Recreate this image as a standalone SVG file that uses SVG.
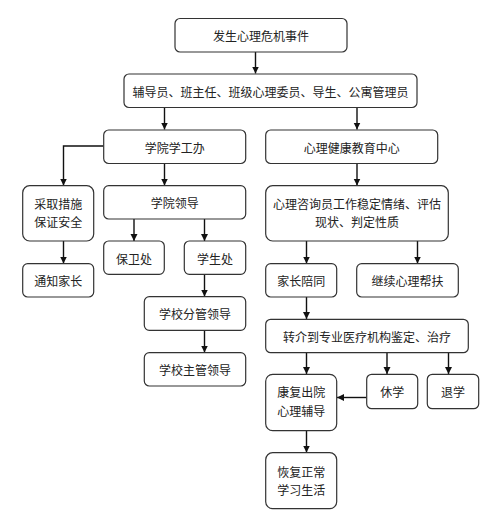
<svg xmlns="http://www.w3.org/2000/svg" width="504" height="529" viewBox="0 0 504 529">
<defs>
<marker id="ah" markerWidth="8" markerHeight="8" refX="7" refY="4" orient="auto" markerUnits="userSpaceOnUse">
<path d="M0,0.5 L7,4 L0,7.5 Z" fill="#111"/>
</marker>
<style>
.box{fill:#fff;stroke:#333;stroke-width:1.2}
.t{font-family:"Noto Sans CJK SC","Noto Sans",sans-serif;font-size:12px;fill:#222;text-anchor:middle;dominant-baseline:central}
.c{fill:none;stroke:#111;stroke-width:1.4;marker-end:url(#ah)}
</style>
</defs>
<rect width="504" height="529" fill="#fff"/>
<g id="connectors">
<path class="c" d="M255.5,52 V73.5"/>
<path class="c" d="M164.5,107.5 V129.5"/>
<path class="c" d="M357,107.5 V129.5"/>
<path class="c" d="M103.5,146 H63.5 V185.5"/>
<path class="c" d="M164.5,163.5 V185.5"/>
<path class="c" d="M357,163.5 V185.5"/>
<path class="c" d="M63.5,241 V263.5"/>
<path class="c" d="M134,219 V241"/>
<path class="c" d="M204.5,219 V241"/>
<path class="c" d="M204.5,274.5 V296.5"/>
<path class="c" d="M204.5,330.5 V352.5"/>
<path class="c" d="M306.5,241 V263.5"/>
<path class="c" d="M417.5,241 V263.5"/>
<path class="c" d="M306.5,297 V319"/>
<path class="c" d="M306.5,352.5 V374"/>
<path class="c" d="M387,352.5 V374"/>
<path class="c" d="M448.5,352.5 V374"/>
<path class="c" d="M366.5,397.5 H337"/>
<path class="c" d="M306.5,430.5 V452.5"/>
</g>
<g id="n1"><rect class="box" x="175" y="18.5" width="172" height="33.5" rx="5"/><text class="t" x="261" y="35.5">发生心理危机事件</text></g>
<g id="n2"><rect class="box" x="124" y="74" width="293" height="33.5" rx="5"/><text class="t" x="270.5" y="91">辅导员、班主任、班级心理委员、导生、公寓管理员</text></g>
<g id="n3"><rect class="box" x="103.7" y="130" width="142" height="33.5" rx="5"/><text class="t" x="174.7" y="147">学院学工办</text></g>
<g id="n4"><rect class="box" x="265.7" y="130" width="172" height="33.5" rx="5"/><text class="t" x="351.7" y="147">心理健康教育中心</text></g>
<g id="n5"><rect class="box" x="22.7" y="185.7" width="71" height="55.3" rx="7"/><text class="t" x="58.2" y="203.5">采取措施</text><text class="t" x="58.2" y="221.7">保证安全</text></g>
<g id="n6"><rect class="box" x="103.7" y="185.7" width="142" height="33.3" rx="5"/><text class="t" x="174.7" y="202.5">学院领导</text></g>
<g id="n7"><rect class="box" x="103.7" y="241" width="60.6" height="33.3" rx="5"/><text class="t" x="134" y="258">保卫处</text></g>
<g id="n8"><rect class="box" x="184.3" y="241" width="61.4" height="33.3" rx="5"/><text class="t" x="215" y="258">学生处</text></g>
<g id="n9"><rect class="box" x="22.7" y="263.7" width="71" height="33.3" rx="5"/><text class="t" x="58.2" y="280.5">通知家长</text></g>
<g id="n10"><rect class="box" x="144.3" y="296.7" width="101.4" height="33.6" rx="5"/><text class="t" x="195" y="313.5">学校分管领导</text></g>
<g id="n11"><rect class="box" x="144.3" y="352.7" width="101.4" height="33.3" rx="5"/><text class="t" x="195" y="369.5">学校主管领导</text></g>
<g id="n12"><rect class="box" x="265.7" y="185.7" width="182.6" height="55.3" rx="7"/><text class="t" x="357" y="203.3">心理咨询员工作稳定情绪、评估</text><text class="t" x="357" y="221.7">现状、判定性质</text></g>
<g id="n13"><rect class="box" x="265.7" y="263.7" width="71" height="33.3" rx="5"/><text class="t" x="301.2" y="280.5">家长陪同</text></g>
<g id="n14"><rect class="box" x="356.7" y="263.7" width="101.6" height="33.3" rx="5"/><text class="t" x="407.5" y="280.5">继续心理帮扶</text></g>
<g id="n15"><rect class="box" x="265.7" y="319.3" width="202.6" height="33.4" rx="5"/><text class="t" x="367" y="336">转介到专业医疗机构鉴定、治疗</text></g>
<g id="n16"><rect class="box" x="265.7" y="374.3" width="71" height="56.4" rx="7"/><text class="t" x="301.2" y="391.7">康复出院</text><text class="t" x="301.2" y="410">心理辅导</text></g>
<g id="n17"><rect class="box" x="366.7" y="374.3" width="51" height="34.4" rx="5"/><text class="t" x="392.2" y="391.5">休学</text></g>
<g id="n18"><rect class="box" x="427.3" y="374.3" width="51.4" height="34.4" rx="5"/><text class="t" x="453" y="391.5">退学</text></g>
<g id="n19"><rect class="box" x="265.7" y="452.7" width="71" height="56" rx="7"/><text class="t" x="301.2" y="471">恢复正常</text><text class="t" x="301.2" y="489">学习生活</text></g>
</svg>
